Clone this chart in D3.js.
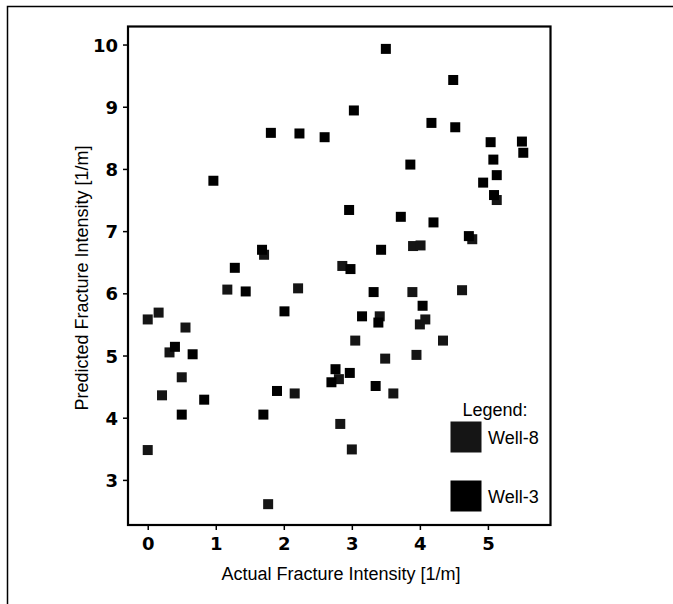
<!DOCTYPE html>
<html>
<head>
<meta charset="utf-8">
<script src="https://cdn.jsdelivr.net/npm/d3@7"></script>
<style>
  html, body { margin: 0; padding: 0; background: #fff; }
  svg { display: block; }
</style>
</head>
<body>
<svg id="chart" width="673" height="604"></svg>
<script>
// ---- data ----
const xTicks = [0, 1, 2, 3, 4, 5];
const yTicks = [3, 4, 5, 6, 7, 8, 9, 10];
const seriesNames = ["Well-8", "Well-3"];
const xTitle = "Actual Fracture Intensity [1/m]";
const yTitle = "Predicted Fracture Intensity [1/m]";

// Well-8 (actual, predicted)
const well8X = [0.00, 0.00, 0.21, 0.16, 0.32, 0.50, 1.77, 2.83, 3.00, 1.17, 2.21, 3.89, 4.62, 3.41, 4.00, 4.08, 3.95, 3.49, 2.81, 3.05, 1.71, 3.90, 4.01, 4.77, 5.13, 0.555, 2.16, 3.61, 4.34, 2.86];
const well8Y = [3.48, 5.58, 4.36, 5.69, 5.05, 4.65, 2.61, 3.90, 3.49, 6.06, 6.08, 6.02, 6.05, 5.63, 5.50, 5.58, 5.01, 4.95, 4.62, 5.24, 6.62, 6.76, 6.77, 6.87, 7.50, 5.45, 4.39, 4.39, 5.24, 6.44];

// Well-3 (actual, predicted)
const well3X = [3.50, 4.49, 3.03, 4.17, 4.52, 1.81, 2.23, 2.60, 5.04, 5.50, 5.52, 5.08, 3.86, 5.13, 0.965, 4.93, 5.09, 2.96, 3.72, 4.20, 4.72, 3.43, 1.68, 1.28, 2.98, 1.44, 3.32, 2.01, 4.04, 3.15, 3.39, 0.40, 0.66, 2.76, 2.97, 2.70, 3.35, 1.90, 0.83, 0.50, 1.70];
const well3Y = [9.93, 9.43, 8.94, 8.74, 8.67, 8.58, 8.57, 8.51, 8.43, 8.44, 8.26, 8.15, 8.07, 7.90, 7.81, 7.78, 7.58, 7.34, 7.23, 7.14, 6.92, 6.70, 6.70, 6.41, 6.39, 6.03, 6.02, 5.71, 5.80, 5.63, 5.53, 5.14, 5.02, 4.78, 4.72, 4.57, 4.51, 4.43, 4.29, 4.05, 4.05];

// ---- layout ----
const svg = d3.select("#chart");
const plot = { left: 128, right: 550.5, top: 26.5, bottom: 525 };

const x = d3.scaleLinear().domain([-0.29, 5.92]).range([plot.left, plot.right]);
const y = d3.scaleLinear().domain([2.275, 10.29]).range([plot.bottom, plot.top]);

// outer frame (top + left only)
svg.append("path")
  .attr("d", `M7.5,604 L7.5,6.5 L673,6.5`)
  .attr("fill", "none").attr("stroke", "#000").attr("stroke-width", 1.5);

// plot frame
svg.append("rect")
  .attr("x", plot.left).attr("y", plot.top)
  .attr("width", plot.right - plot.left).attr("height", plot.bottom - plot.top)
  .attr("fill", "#fff").attr("stroke", "#000").attr("stroke-width", 2.2);

// axes
const tickFont = "'DejaVu Sans', sans-serif";
const xAxis = d3.axisBottom(x).tickValues(xTicks).tickSize(5).tickPadding(4).tickFormat(d3.format("d"));
const yAxis = d3.axisLeft(y).tickValues(yTicks).tickSize(5).tickPadding(5).tickFormat(d3.format("d"));

const gx = svg.append("g").attr("transform", `translate(0,${plot.bottom})`).call(xAxis);
const gy = svg.append("g").attr("transform", `translate(${plot.left},0)`).call(yAxis);
[gx, gy].forEach(g => {
  g.select(".domain").remove();
  g.selectAll(".tick line").attr("stroke", "#000").attr("stroke-width", 1.5);
  g.selectAll(".tick text")
    .attr("fill", "#000")
    .style("font-family", tickFont)
    .style("font-weight", "700")
    .style("font-size", "18px");
});
gx.selectAll(".tick text").attr("dy", "0.9em");
gy.selectAll(".tick text").attr("dy", "0.36em");

// axis titles
const titleFont = "'Liberation Sans', Arial, sans-serif";
svg.append("text")
  .attr("x", 341).attr("y", 580)
  .attr("text-anchor", "middle")
  .style("font-family", titleFont).style("font-size", "18px").attr("fill", "#000")
  .text(xTitle);
svg.append("text")
  .attr("transform", `translate(88,278) rotate(-90)`)
  .attr("text-anchor", "middle")
  .style("font-family", titleFont).style("font-size", "18px").attr("fill", "#000")
  .text(yTitle);

// points
const size = 10;
const well8 = well8X.map((v, i) => ({ x: v, y: well8Y[i] }));
const well3 = well3X.map((v, i) => ({ x: v, y: well3Y[i] }));
const colors = { "Well-8": "#151515", "Well-3": "#000" };

svg.append("g").selectAll("rect").data(well8).join("rect")
  .attr("x", d => x(d.x) - size / 2).attr("y", d => y(d.y) - size / 2)
  .attr("width", size).attr("height", size)
  .attr("fill", colors["Well-8"]);
svg.append("g").selectAll("rect").data(well3).join("rect")
  .attr("x", d => x(d.x) - size / 2).attr("y", d => y(d.y) - size / 2)
  .attr("width", size).attr("height", size)
  .attr("fill", colors["Well-3"]);

// legend
const lg = svg.append("g");
lg.append("text").attr("x", 495).attr("y", 416)
  .attr("text-anchor", "middle")
  .style("font-family", titleFont).style("font-size", "18px").attr("fill", "#000")
  .text("Legend:");
seriesNames.forEach((name, i) => {
  const yy = 421.5 + i * 59;
  lg.append("rect").attr("x", 450.5).attr("y", yy).attr("width", 31).attr("height", 31)
    .attr("fill", colors[name]);
  lg.append("text").attr("x", 488).attr("y", yy + 22)
    .style("font-family", titleFont).style("font-size", "18px").attr("fill", "#000")
    .text(name);
});
</script>
</body>
</html>
